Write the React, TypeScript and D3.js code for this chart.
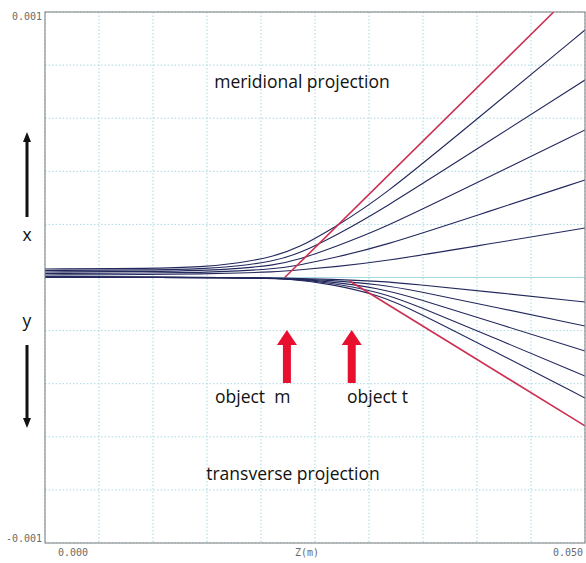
import React from "react";
import * as d3 from "d3";

// ray trajectories: z (m) along the axis, offset (m)
const upperZ = [0, 0.01, 0.0145, 0.018, 0.021, 0.0235, 0.027, 0.031, 0.04, 0.05];
const upperRays = [
  [0.000032, 0.0000339, 0.0000395, 0.0000546, 0.0000772, 0.0001111, 0.000194, 0.0002957, 0.000597, 0.0009322],
  [0.0000264, 0.0000282, 0.000032, 0.0000433, 0.0000603, 0.0000885, 0.0001601, 0.0002505, 0.000484, 0.0007439],
  [0.0000207, 0.0000226, 0.0000264, 0.0000339, 0.0000452, 0.0000659, 0.0001186, 0.0001789, 0.0003571, 0.0005556],
  [0.0000151, 0.0000169, 0.0000188, 0.0000245, 0.000032, 0.0000452, 0.0000772, 0.0001149, 0.0002343, 0.0003672],
  [0.0000094, 0.0000113, 0.0000132, 0.0000169, 0.0000207, 0.0000282, 0.0000414, 0.0000584, 0.000119, 0.0001864],
];
const lowerZ = [0, 0.019, 0.0227, 0.0264, 0.031, 0.034, 0.042, 0.05];
const lowerRays = [
  [0.0000019, -0.0000004, -0.0000023, -0.0000064, -0.0000143, -0.0000241, -0.0000575, -0.0000923],
  [0.0000019, -0.0000004, -0.000003, -0.0000105, -0.0000267, -0.0000467, -0.0001146, -0.0001827],
  [0.0000019, -0.0000004, -0.0000038, -0.0000151, -0.0000411, -0.0000734, -0.0001755, -0.0002768],
  [0.0000019, -0.0000004, -0.0000045, -0.0000192, -0.0000554, -0.0000987, -0.0002345, -0.000371],
  [0.0000019, -0.0000004, -0.0000053, -0.0000234, -0.000067, -0.0001202, -0.0002862, -0.0004539],
];
// asymptotes (red) through the virtual object points
const asymptoteM = [[0.0222, 0], [0.0471, 0.001]];
const asymptoteT = [[0.0282, -0.0000132], [0.05, -0.000559]];
const objectZ = [0.0224, 0.0284];
const objectLabels = ["object  m", "object t"];
const xTickLabels = ["0.000", "0.050"];
const yTickLabels = ["0.001", "-0.001"];

const W = 586;
const H = 563;
const margin = { top: 12, right: 1, bottom: 20, left: 45 };

export default function App() {
  const x = d3.scaleLinear().domain([0, 0.05]).range([margin.left, W - margin.right]);
  const y = d3.scaleLinear().domain([-0.001, 0.001]).range([H - margin.bottom, margin.top]);
  const line = d3
    .line<[number, number]>()
    .x((d) => x(d[0]))
    .y((d) => y(d[1]))
    .curve(d3.curveBasis);
  const straight = d3
    .line<number[]>()
    .x((d) => x(d[0]))
    .y((d) => y(d[1]));

  const gridX = x.ticks(10);
  const gridY = y.ticks(10);
  const rayColor = "#23285c";
  const red = "#cc2f52";
  const arrowRed = "#e8102f";
  const textFont = "'Open Sans', 'Noto Sans', sans-serif";
  const monoFont = "'DejaVu Sans Mono', monospace";

  const arrowTop = 330;
  const arrowBottom = 383;

  return (
    <div style={{ position: "fixed", left: 0, top: 0 }}>
      <svg width={W} height={H} style={{ display: "block", background: "#fff" }}>
        <defs>
          <clipPath id="plot">
            <rect x={x(0)} y={y(0.001)} width={x(0.05) - x(0)} height={y(-0.001) - y(0.001)} />
          </clipPath>
        </defs>

        {/* grid */}
        <g>
          {gridX.map((t, i) => (
            <line key={"gx" + i} x1={x(t)} x2={x(t)} y1={y(0.001)} y2={y(-0.001)}
              stroke="#a9d9e2" strokeWidth={1} strokeDasharray="1.5,2" />
          ))}
          {gridY.map((t, i) => (
            <line key={"gy" + i} x1={x(0)} x2={x(0.05)} y1={y(t)} y2={y(t)}
              stroke="#a9d9e2" strokeWidth={1}
              strokeDasharray={Math.abs(t) < 1e-9 ? undefined : "1.5,2"} />
          ))}
        </g>

        {/* rays */}
        <g clipPath="url(#plot)" fill="none">
          {upperRays.map((r, i) => (
            <path key={"u" + i} d={line(upperZ.map((z, j) => [z, r[j]]) as any) || ""}
              stroke={rayColor} strokeWidth={1.1} />
          ))}
          {lowerRays.map((r, i) => (
            <path key={"l" + i} d={line(lowerZ.map((z, j) => [z, r[j]]) as any) || ""}
              stroke={rayColor} strokeWidth={1.1} />
          ))}
          <path d={straight(asymptoteM) || ""} stroke={red} strokeWidth={1.6} />
          <path d={straight(asymptoteT) || ""} stroke={red} strokeWidth={1.6} />
        </g>

        {/* frame */}
        <rect x={x(0)} y={y(0.001)} width={x(0.05) - x(0)} height={y(-0.001) - y(0.001)}
          fill="none" stroke="#7a7a7a" strokeWidth={1} />

        {/* tick labels */}
        <g fontFamily={monoFont} fontSize={10} fill="#6a6a6a">
          <text x={42} y={y(0.001) + 8} textAnchor="end">{yTickLabels[0]}</text>
          <text x={42} y={y(-0.001) - 1} textAnchor="end">{yTickLabels[1]}</text>
          <text x={x(0) + 13} y={556}>{xTickLabels[0]}</text>
          <text x={x(0.05) - 2} y={556} textAnchor="end">{xTickLabels[1]}</text>
          <text x={x(0.025) - 8} y={556} textAnchor="middle">Z(m)</text>
        </g>

        {/* annotations */}
        <g fontFamily={textFont} fontSize={17.5} fill="#111">
          <text x={302} y={88} textAnchor="middle">meridional projection</text>
          <text x={293} y={480} textAnchor="middle">transverse projection</text>
          <text x={27} y={241} textAnchor="middle">x</text>
          <text x={27} y={327} textAnchor="middle">y</text>
          <text x={215} y={403} style={{ whiteSpace: "pre" }}>{objectLabels[0]}</text>
          <text x={347} y={403} style={{ whiteSpace: "pre" }}>{objectLabels[1]}</text>
        </g>

        {/* object arrows */}
        {objectZ.map((z, i) => (
          <g key={"oa" + i} fill={arrowRed}>
            <rect x={x(z) - 4} y={arrowTop + 14} width={8} height={arrowBottom - arrowTop - 14} />
            <path d={`M${x(z)},${arrowTop} L${x(z) + 10},${arrowTop + 15} L${x(z) - 10},${arrowTop + 15} Z`} />
          </g>
        ))}

        {/* x / y direction arrows */}
        <g fill="#111">
          <rect x={25.5} y={139} width={3} height={78} />
          <path d="M27,132 L31,142 L23,142 Z" />
          <rect x={25.5} y={345} width={3} height={76} />
          <path d="M27,428 L31,418 L23,418 Z" />
        </g>
      </svg>
    </div>
  );
}
